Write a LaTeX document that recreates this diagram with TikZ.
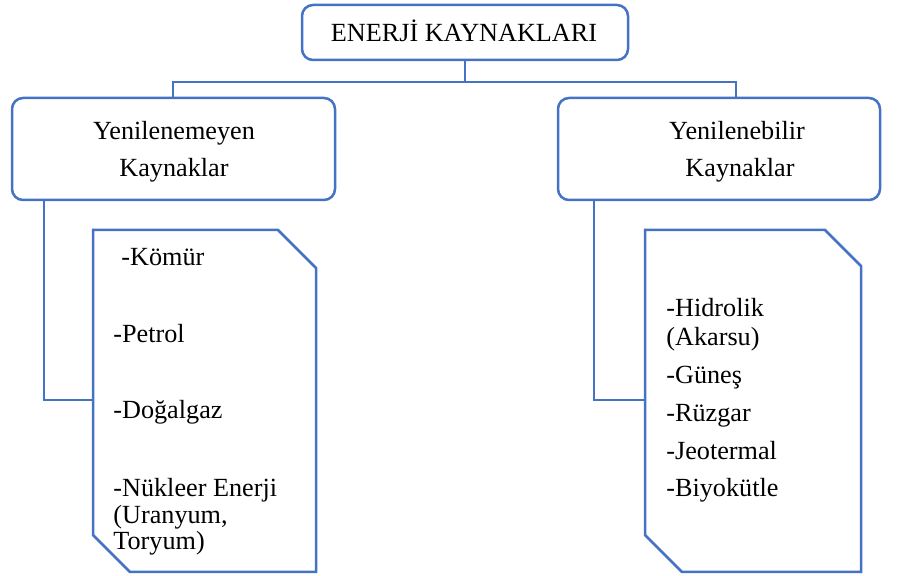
\documentclass[tikz,border=0pt]{standalone}
\usepackage{fontspec}
\setmainfont{Liberation Serif}
\definecolor{frameblue}{RGB}{68,114,196}
\begin{document}
\begin{tikzpicture}[x=0.5pt,y=-0.5pt,
  line/.style={draw=frameblue, line width=1.25pt},
  box/.style={line, rounded corners=5.5pt, inner sep=0pt},
  doc/.style={line, line join=miter},
  lbl/.style={inner sep=0pt, font=\fontsize{13.1}{16}\selectfont},
  item/.style={lbl, anchor=base west},
  title/.style={lbl, anchor=base}]
\useasboundingbox (0,0) rectangle (905,576);

% heading boxes
\node[box, minimum width=163pt, minimum height=27.5pt] (top) at (465,32.5) {};
\node[box, minimum width=161.5pt, minimum height=51pt] (left) at (173.5,149) {};
\node[box, minimum width=161pt, minimum height=51pt] (right) at (719,149) {};

\node[title] (tTop) at (464,42) {ENERJİ KAYNAKLARI};
\node[title] (tL1) at (174,140) {Yenilenemeyen};
\node[title] (tL2) at (174,177) {Kaynaklar};
\node[title] (tR1) at (737,140) {Yenilenebilir};
\node[title] (tR2) at (740,177) {Kaynaklar};

% tree connectors
\coordinate (busL) at (173,82);
\coordinate (busR) at (736,82);
\draw[line] (top.south) -- (top.south |- busL);
\draw[line] (left.north -| busL) -- (busL) -- (busR) -- (right.north -| busR);

% note sheets with cut corners
\draw[doc] (93,230) -- (278,230) -- (316,268) -- (316,572) -- (130,572) -- (93,535) -- cycle;
\draw[doc] (645,230) -- (825,230) -- (861,266) -- (861,572) -- (682,572) -- (645,535) -- cycle;
\coordinate (ldoc) at (93,400);
\coordinate (rdoc) at (645,400);
\coordinate (lx) at (44,0);
\coordinate (rx) at (594,0);
\draw[line] (left.south -| lx) |- (ldoc);
\draw[line] (right.south -| rx) |- (rdoc);

% non-renewable sources
\node[item] (k1) at (121,266) {-Kömür};
\node[item] (k2) at (113,343) {-Petrol};
\node[item] (k3) at (113,419) {-Doğalgaz};
\node[item] (k4) at (113,497) {-Nükleer Enerji};
\node[item] (k5) at (113,523.5) {(Uranyum,};
\node[item] (k6) at (113,550) {Toryum)};

% renewable sources
\node[item] (r1) at (666,317) {-Hidrolik};
\node[item] (r2) at (666,346) {(Akarsu)};
\node[item] (r3) at (666,384) {-Güneş};
\node[item] (r4) at (666,422) {-Rüzgar};
\node[item] (r5) at (666,460) {-Jeotermal};
\node[item] (r6) at (666,497) {-Biyokütle};
\end{tikzpicture}
\end{document}
